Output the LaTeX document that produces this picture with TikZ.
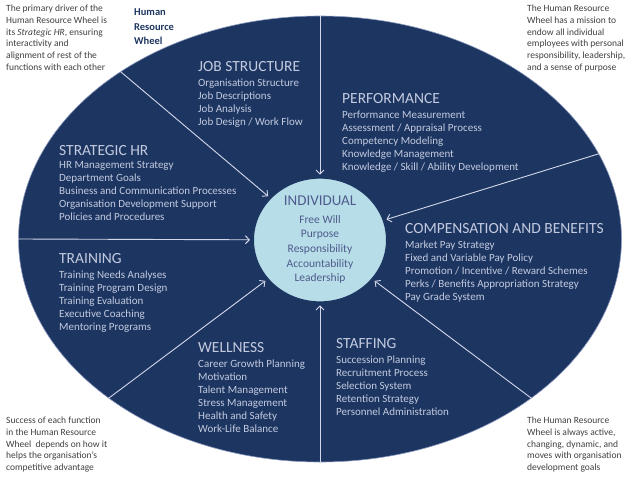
\documentclass[tikz,border=0pt]{standalone}
\usepackage{fontspec}
\setmainfont{Carlito}
\usetikzlibrary{positioning,arrows.meta,shapes.geometric}
\definecolor{wheelblue}{HTML}{1D3661}
\definecolor{wheeledge}{HTML}{8C9AC0}
\definecolor{indblue}{HTML}{B7DDE8}
\definecolor{indtext}{HTML}{4F5B8C}
\definecolor{sectext}{HTML}{C3CAE0}
\definecolor{spokecol}{HTML}{D4D8EA}
\definecolor{notegray}{HTML}{404040}
\begin{document}
\begin{tikzpicture}
  [x=1pt,y=-1pt,every node/.style={inner sep=0pt},
   head/.style={anchor=west,text=sectext,font=\fontsize{15.5}{18}\selectfont},
   items/.style={align=left,text=sectext,font=\fontsize{11}{13}\selectfont},
   note/.style={anchor=north west,align=left,text=notegray,font=\fontsize{9.5}{11.7}\selectfont},
   spoke/.style={draw=spokecol,line width=0.9pt,-{Straight Barb[length=4pt,width=8pt]},shorten >=3pt}]
\useasboundingbox (0,0) rectangle (638,479);
\node (wheel)[ellipse,fill=wheelblue,draw=wheeledge,line width=0.6pt,minimum width=603pt,minimum height=446pt] at (320,239) {};
\node (ind)[ellipse,fill=indblue,draw=wheelblue,line width=1pt,minimum width=133pt,minimum height=116pt,
  align=center,text=indtext,font=\fontsize{11.5}{14.7}\selectfont] at (320,240)
  {{\fontsize{15}{18}\selectfont INDIVIDUAL}\\[2.5pt]Free Will\\Purpose\\Responsibility\\Accountability\\Leadership};

\foreach \ang in {90,140,17,180,217,270,323}
  \draw[spoke] (wheel.\ang) -- (ind);

% the eight functions of the wheel
\node (jobs)[head] at (198,67) {JOB STRUCTURE};
\node (jobslist)[items,below=6pt of jobs.south west,anchor=north west]
  {Organisation Structure\\Job Descriptions\\Job Analysis\\Job Design / Work Flow};
\node (perf)[head] at (342,99) {PERFORMANCE};
\node (perflist)[items,below=6pt of perf.south west,anchor=north west]
  {Performance Measurement\\Assessment / Appraisal Process\\Competency Modeling\\Knowledge Management\\Knowledge / Skill / Ability Development};
\node (strat)[head] at (59,151) {STRATEGIC HR};
\node (stratlist)[items,below=5pt of strat.south west,anchor=north west]
  {HR Management Strategy\\Department Goals\\Business and Communication Processes\\Organisation Development Support\\Policies and Procedures};
\node (comp)[head] at (405,229) {COMPENSATION AND BENEFITS};
\node (complist)[items,below=6.5pt of comp.south west,anchor=north west]
  {Market Pay Strategy\\Fixed and Variable Pay Policy\\Promotion / Incentive / Reward Schemes\\Perks / Benefits Appropriation Strategy\\Pay Grade System};
\node (train)[head] at (59,259) {TRAINING};
\node (trainlist)[items,below=6pt of train.south west,anchor=north west]
  {Training Needs Analyses\\Training Program Design\\Training Evaluation\\Executive Coaching\\Mentoring Programs};
\node (well)[head] at (198,348) {WELLNESS};
\node (welllist)[items,below=6.5pt of well.south west,anchor=north west]
  {Career Growth Planning\\Motivation\\Talent Management\\Stress Management\\Health and Safety\\Work-Life Balance};
\node (staff)[head] at (336,344) {STAFFING};
\node (stafflist)[items,below=6pt of staff.south west,anchor=north west]
  {Succession Planning\\Recruitment Process\\Selection System\\Retention Strategy\\Personnel Administration};

% corner notes
\node (title)[anchor=north west,align=left,text=wheelblue,font=\bfseries\fontsize{10.5}{14.5}\selectfont] at (134,8.5)
  {Human\\Resource\\Wheel};
\node (drivernote)[note] at (6,5)
  {The primary driver of the\\Human Resource Wheel is\\its \textit{Strategic HR}, ensuring\\interactivity and\\alignment of rest of the\\functions with each other};
\node (missionnote)[note] at (527,5)
  {The Human Resource\\Wheel has a mission to\\endow all individual\\employees with personal\\responsibility, leadership,\\and a sense of purpose};
\node (successnote)[note] at (6,417)
  {Success of each function\\in the Human Resource\\Wheel\ \ depends on how it\\helps the organisation’s\\competitive advantage};
\node (activenote)[note] at (527,417)
  {The Human Resource\\Wheel is always active,\\changing, dynamic, and\\moves with organisation\\development goals};
\end{tikzpicture}
\end{document}
